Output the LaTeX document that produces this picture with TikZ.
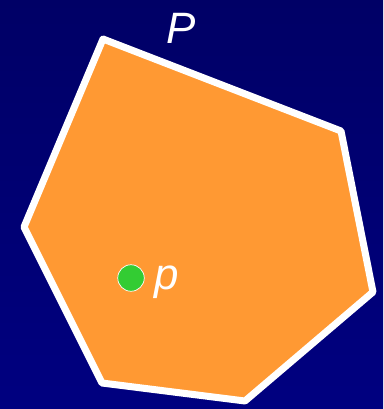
\documentclass[tikz,border=0pt]{standalone}
\usepackage{fontspec}
\setsansfont{Liberation Sans}
\usetikzlibrary{positioning}
\definecolor{navytop}{HTML}{000066}
\definecolor{navybot}{HTML}{000080}
\definecolor{region}{HTML}{FF9933}
\definecolor{ptgreen}{HTML}{33CC33}

\begin{document}
\begin{tikzpicture}[x=0.02cm,y=-0.02cm,font=\sffamily\itshape,text=white,
  lbl/.style={font=\fontsize{25}{25}\sffamily\itshape,text=white,inner sep=0pt},
  dot/.style={circle,draw=white,thin,fill=ptgreen,minimum size=0.53cm,inner sep=0pt}]
  \shade[top color=navytop,bottom color=navybot] (0,0) rectangle (383,409);
  \useasboundingbox (0,0) rectangle (383,409);

  % polygon P
  \coordinate (v1) at (103,39);
  \coordinate (v2) at (341,131);
  \coordinate (v3) at (373,292);
  \coordinate (v4) at (245,401);
  \coordinate (v5) at (102,383);
  \coordinate (v6) at (24,227);
  \filldraw[fill=region,draw=white,line width=0.14cm,line join=round]
    (v1)--(v2)--(v3)--(v4)--(v5)--(v6)--cycle;
  \node[lbl] (Plabel) at (181,28) {P};

  % point p
  \node[dot] (pt) at (131,278) {};
  \node[lbl,right=0.2cm of pt,yshift=-0.08cm] (plabel) {p};
\end{tikzpicture}
\end{document}
